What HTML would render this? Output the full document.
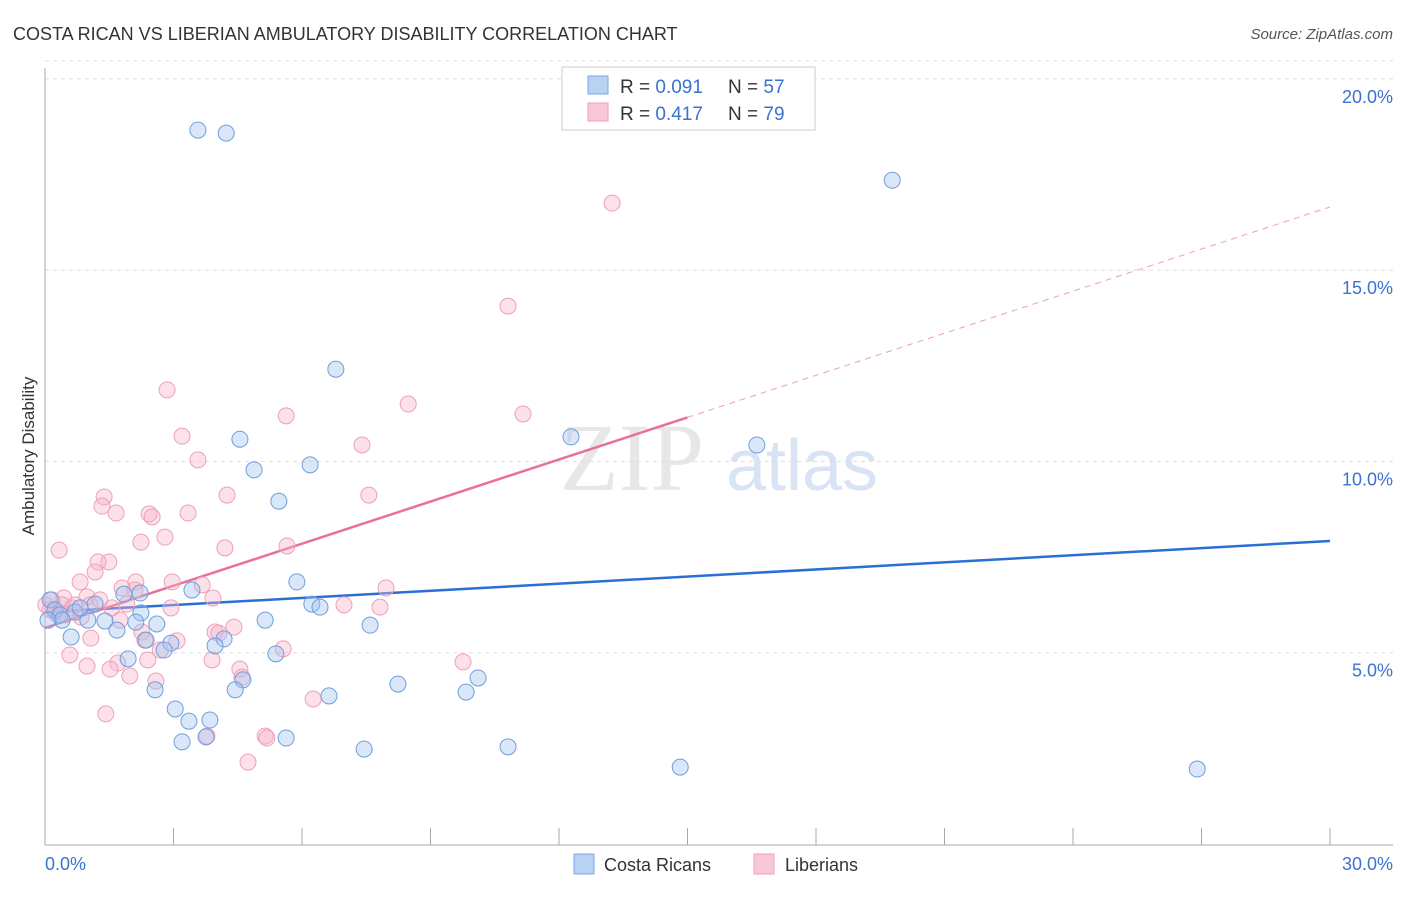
<!DOCTYPE html>
<html><head><meta charset="utf-8"><style>
body{margin:0;background:#fff;font-family:"Liberation Sans",sans-serif;}
</style></head><body>
<svg id="chart" width="1406" height="892" xmlns="http://www.w3.org/2000/svg" style="font-family:'Liberation Sans',sans-serif">
<text x="13" y="40" font-size="18" fill="#333">COSTA RICAN VS LIBERIAN AMBULATORY DISABILITY CORRELATION CHART</text>
<text x="1393" y="39" font-size="15" fill="#555" font-style="italic" text-anchor="end">Source: ZipAtlas.com</text>
<text x="34" y="456" font-size="17" fill="#333" text-anchor="middle" transform="rotate(-90 34 456)">Ambulatory Disability</text>
<g>
<text x="632" y="490" font-size="96" fill="#ddd" font-family="Liberation Serif,serif" text-anchor="middle" opacity="0.7">ZIP</text>
<text x="802" y="490" font-size="72" fill="#c8d8ee" text-anchor="middle" opacity="0.7">atlas</text>
</g>
<g id="grid"></g><g id="axes"></g><g id="trends"></g><g id="pts"></g>
<g>
<rect x="562" y="67" width="253" height="63" fill="#fff" stroke="#ccc"/>
<rect x="588" y="76" width="20" height="18" fill="#b8d2f4" stroke="#7aa7e0"/>
<rect x="588" y="103" width="20" height="18" fill="#f8c8d6" stroke="#eea0b8"/>
<text x="620" y="93" font-size="19" fill="#333">R = <tspan fill="#3a72d0">0.091</tspan></text>
<text x="728" y="93" font-size="19" fill="#333">N = <tspan fill="#3a72d0">57</tspan></text>
<text x="620" y="120" font-size="19" fill="#333">R = <tspan fill="#3a72d0">0.417</tspan></text>
<text x="728" y="120" font-size="19" fill="#333">N = <tspan fill="#3a72d0">79</tspan></text>
</g>
<g>
<rect x="574" y="854" width="20" height="20" fill="#b8d2f4" stroke="#7aa7e0"/>
<text x="604" y="871" font-size="18" fill="#333">Costa Ricans</text>
<rect x="754" y="854" width="20" height="20" fill="#f8c8d6" stroke="#eea0b8"/>
<text x="785" y="871" font-size="18" fill="#333">Liberians</text>
</g>
</svg>
<script>
const yTicks=[5,10,15,20];
const yTickLabels=["5.0%","10.0%","15.0%","20.0%"];
const xTickVals=[0,3,6,9,12,15,18,21,24,27,30];
const blueX=[3.57,4.23,19.78,6.79,4.55,12.28,16.62,6.19,4.88,5.46,5.88,3.43,2.22,1.84,1.17,6.23,6.42,2.24,5.14,2.12,2.61,1.40,1.00,7.59,1.68,0.61,4.18,2.94,2.36,2.78,5.39,3.97,1.94,10.11,4.62,8.24,2.57,4.44,9.83,6.63,3.04,3.36,3.85,3.20,3.76,5.63,7.45,10.81,14.83,26.90,0.12,0.23,0.35,0.70,0.40,0.07,0.82];
const blueY=[18.66,18.58,17.35,12.41,10.58,10.64,10.43,9.91,9.78,8.96,6.85,6.64,6.56,6.53,6.27,6.27,6.19,6.04,5.85,5.80,5.75,5.83,5.85,5.72,5.59,5.41,5.36,5.25,5.33,5.07,4.97,5.18,4.84,4.34,4.29,4.18,4.03,4.03,3.97,3.87,3.53,3.21,3.24,2.67,2.80,2.77,2.48,2.54,2.01,1.96,6.38,6.12,5.99,6.06,5.85,5.85,6.17];
const pinkX=[13.24,10.81,2.85,8.48,11.16,5.63,3.20,7.40,3.57,1.38,4.25,7.56,1.33,1.66,2.43,3.34,2.50,0.33,2.80,2.24,4.20,5.65,1.49,1.24,1.17,0.82,2.12,1.80,2.97,3.67,3.92,0.98,0.44,7.96,6.98,7.82,1.91,1.56,2.94,0.63,0.02,0.23,0.47,0.84,2.26,3.97,4.06,4.41,1.07,3.08,2.33,5.56,0.58,2.40,3.90,0.98,1.70,1.52,4.55,9.76,4.60,1.98,2.59,6.26,1.42,3.78,5.14,5.18,4.74,0.40,0.70,0.30,0.12,1.05,1.75,1.28,2.10,2.69,0.16];
const pinkY=[16.75,14.06,11.87,11.50,11.24,11.19,10.66,10.43,10.04,9.07,9.12,9.12,8.83,8.65,8.63,8.65,8.55,7.68,8.02,7.89,7.74,7.79,7.37,7.37,7.11,6.85,6.85,6.69,6.85,6.77,6.43,6.46,6.43,6.69,6.25,6.19,6.27,6.17,6.17,6.17,6.25,6.06,5.99,5.93,5.54,5.54,5.51,5.67,5.38,5.31,5.33,5.10,4.94,4.81,4.81,4.65,4.73,4.57,4.57,4.76,4.36,4.39,4.26,3.79,3.40,2.82,2.82,2.77,2.14,6.25,6.25,5.99,6.12,6.25,5.85,6.38,6.64,5.07,6.38];
const blueTrend=[6.06,7.92];
const pinkTrend=[5.65,16.65];
const X0=45,X1=1330,Y0=844,PPY=38.26;
const sx=v=>X0+(X1-X0)*v/30, sy=v=>Y0-v*PPY;
const NS="http://www.w3.org/2000/svg";
function mk(tag,attrs,parent){const e=document.createElementNS(NS,tag);for(const k in attrs)e.setAttribute(k,attrs[k]);parent.appendChild(e);return e;}
const gridG=document.getElementById('grid'),axesG=document.getElementById('axes'),trG=document.getElementById('trends'),ptsG=document.getElementById('pts');
yTicks.forEach((t,i)=>{
 const l=mk('line',{x1:X0,x2:1393,y1:sy(t),y2:sy(t),stroke:'#ddd','stroke-dasharray':'4,4'},gridG);
 
 
 const tx=mk('text',{x:1393,y:sy(t)+24,'font-size':18,fill:'#3a72d0','text-anchor':'end'},axesG);
 tx.textContent=yTickLabels[i];
 
 
});
const topGrid=mk('line',{x1:X0,x2:1393,y1:sy(20)-18,y2:sy(20)-18,stroke:'#ddd','stroke-dasharray':'4,4'},gridG);


const ya=mk('line',{x1:X0,x2:X0,y1:68,y2:845,stroke:'#aaa'},axesG);


const xa=mk('line',{x1:X0,x2:1393,y1:845,y2:845,stroke:'#aaa'},axesG);


xTickVals.forEach(v=>{
 const t=mk('line',{x1:sx(v),x2:sx(v),y1:828,y2:845,stroke:'#aaa'},axesG);
 
 
});
const xl0=mk('text',{x:45,y:870,'font-size':18,fill:'#3a72d0'},axesG);xl0.textContent='0.0%';


const xl1=mk('text',{x:1393,y:870,'font-size':18,fill:'#3a72d0','text-anchor':'end'},axesG);xl1.textContent='30.0%';


function draw(xs,ys,fill,stroke,name){xs.forEach((x,i)=>{
 const c=mk('circle',{cx:sx(x),cy:sy(ys[i]),r:8,fill:fill,stroke:stroke,'stroke-width':1},ptsG);
 
 
});}
draw(pinkX,pinkY,'rgba(248,180,202,0.4)','#eea0b8','liberian-point');
draw(blueX,blueY,'rgba(160,196,240,0.4)','#6f9fdc','costa-rican-point');
const bt=mk('line',{x1:sx(0),y1:sy(blueTrend[0]),x2:sx(30),y2:sy(blueTrend[1]),stroke:'#2a6fd6','stroke-width':2.5},trG);


const pm=pinkTrend[0]+(pinkTrend[1]-pinkTrend[0])/2;
const pt=mk('line',{x1:sx(0),y1:sy(pinkTrend[0]),x2:sx(15),y2:sy(pm),stroke:'#e8709a','stroke-width':2.5},trG);


const pd=mk('line',{x1:sx(15),y1:sy(pm),x2:sx(30),y2:sy(pinkTrend[1]),stroke:'#e8a0b8','stroke-width':1,'stroke-dasharray':'6,5'},trG);


</script>
</body></html>
